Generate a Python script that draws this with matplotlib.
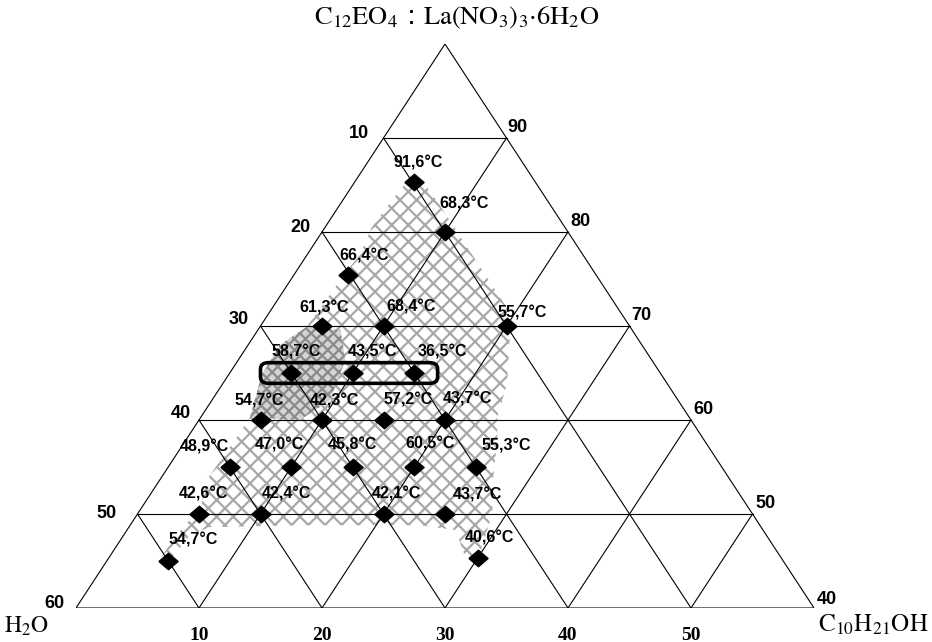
import numpy as np
import matplotlib
matplotlib.use('Agg')
import matplotlib.pyplot as plt
from matplotlib.patches import Polygon, FancyBboxPatch

# composition of each measured sample (wt %): surfactant mixture and decanol, water is the rest
surf = [85.3, 80, 75.4, 70, 70, 70, 65, 65, 65, 60, 60, 60, 60,
        55, 55, 55, 55, 55, 50, 50, 50, 50, 45, 45.3]
decanol = [4.8, 10, 4.4, 5, 10, 20, 5, 10, 15, 5, 10, 15, 20,
           5, 10, 15, 20, 25, 5, 10, 20, 25, 5, 30]
temps = [91.6, 68.3, 66.4, 61.3, 68.4, 55.7, 58.7, 43.5, 36.5, 54.7, 42.3, 57.2, 43.7,
         48.9, 47.0, 45.8, 60.5, 55.3, 42.6, 42.4, 42.1, 43.7, 54.7, 40.6]

# where each temperature label sits relative to its point (pixels, right / down)
label_offsets = [(5, -19), (19, -28), (16, -19), (2, -18), (28, -19), (16, -13),
                 (5, -21), (20, -21), (28, -21), (-1, -19), (12, -19), (25, -20), (22, -21),
                 (-25, -20), (-12, -22), (0, -22), (16, -23), (31, -21),
                 (4, -20), (26, -20), (13, -20), (32, -19), (25, -21), (12, -20)]

# outline of the hatched (single phase) domain, as (surfactant, decanol) pairs
region_s = [85.0, 85.0, 83.1, 78.4, 75.2, 72.0, 69.6, 63.9, 60.3, 57.9, 53.6, 50.1,
            46.7, 45.1, 45.6, 48.3, 48.8, 48.8, 48.6, 47.8, 45.1, 45.5, 48.8, 50.4,
            53.6, 58.2, 60.3, 64.8, 68.0, 69.9, 73.8, 76.0, 77.6, 80.5, 83.4]
region_d = [4.2, 5.9, 7.9, 12.6, 15.8, 19.0, 20.5, 23.1, 24.1, 25.3, 27.1, 28.8,
            29.7, 30.1, 28.8, 26.7, 23.6, 13.8, 6.6, 5.4, 5.1, 4.2, 4.4, 4.9,
            3.8, 4.0, 4.0, 2.7, 2.6, 3.8, 4.0, 4.1, 4.3, 3.8, 4.0]
# denser part of the domain
dense_s = [64.8, 68.0, 69.9, 69.6, 66.4, 62.1, 60.0, 60.3]
dense_d = [2.7, 2.6, 3.8, 6.7, 8.7, 9.6, 8.2, 4.0]

left_ticks = [10, 20, 30, 40, 50, 60]     # water
right_ticks = [90, 80, 70, 60, 50, 40]    # surfactant
bottom_ticks = [10, 20, 30, 40, 50]       # decanol

left_off = [(-25, -4), (-22, -4), (-22, -7), (-18, -6), (-31, -1), (-22, -5)]
right_off = [(11, -11), (12, -10), (12, -11), (12, -10), (13, -11), (13, -8)]

S0, SPAN = 40.0, 60.0


def to_xy(s, d):
    """ surfactant / decanol percentages -> position inside the unit triangle """
    s = np.asarray(s, dtype=float)
    d = np.asarray(d, dtype=float)
    v = (s - S0) / SPAN
    u = (d + (s - S0) / 2.0) / SPAN
    return u, v


plt.rcParams['mathtext.fontset'] = 'stix'
plt.rcParams['hatch.linewidth'] = 1.6

fig = plt.figure(figsize=(9.32, 6.42), dpi=100)
ax = fig.add_axes([76 / 932, 34 / 642, 738 / 932, 564 / 642])
ax.set_xlim(0, 1)
ax.set_ylim(0, 1)
ax.axis('off')

# hatched domain
u, v = to_xy(region_s, region_d)
ax.add_patch(Polygon(np.column_stack([u, v]), closed=True, facecolor='none',
                     edgecolor='#a8a8a8', linewidth=0, hatch='xx', zorder=1))
u, v = to_xy(dense_s, dense_d)
ax.add_patch(Polygon(np.column_stack([u, v]), closed=True, facecolor='#d4d4d4',
                     edgecolor='#8a8a8a', linewidth=0, hatch='xxx', zorder=1))

# triangle and grid
lw = 0.8
u, v = to_xy([40, 100, 40, 40], [0, 0, 60, 0])
ax.plot(u, v, color='black', lw=lw, zorder=2)
for k in range(10, 60, 10):
    s = S0 + k
    u, v = to_xy([s, s], [0, 100 - s])          # constant surfactant
    ax.plot(u, v, color='black', lw=lw, zorder=2)
    u, v = to_xy([S0, 100 - k], [k, k])         # constant decanol
    ax.plot(u, v, color='black', lw=lw, zorder=2)
    u, v = to_xy([S0, 100 - k], [60 - k, 0])    # constant water
    ax.plot(u, v, color='black', lw=lw, zorder=2)

# highlighted row
row_s, row_d, row_h = 65, (2.5, 16.9), 1.1
ul, ur = to_xy([row_s, row_s], row_d)[0]
vb, vt = to_xy([row_s - row_h, row_s + row_h], [0, 0])[1]
ax.add_patch(FancyBboxPatch((ul, vb), ur - ul, vt - vb,
                            boxstyle='round,pad=0,rounding_size=0.011',
                            facecolor='none', edgecolor='black', linewidth=2.6, zorder=4))

# samples
diamond = [(-1, 0), (0, 0.86), (1, 0), (0, -0.86), (-1, 0)]
u, v = to_xy(surf, decanol)
ax.plot(u, v, linestyle='none', marker=diamond, markersize=13.8,
        color='black', zorder=5)
for x, y, t, (dx, dy) in zip(u, v, temps, label_offsets):
    ax.annotate(f'{t:.1f}'.replace('.', ',') + '°C', (x, y), xytext=(dx, -dy),
                textcoords='offset pixels', ha='center', va='center',
                fontsize=11.5, fontweight='bold', family='Liberation Sans', zorder=6)

# axis numbers
tick_font = dict(fontsize=13, fontweight='bold', family='Liberation Sans',
                 ha='center', va='center')
for w, (dx, dy) in zip(left_ticks, left_off):
    x, y = to_xy(100 - w, 0)
    ax.annotate(str(w), (x, y), xytext=(dx, -dy), textcoords='offset pixels', **tick_font)
for s, (dx, dy) in zip(right_ticks, right_off):
    x, y = to_xy(s, 100 - s)
    ax.annotate(str(s), (x, y), xytext=(dx, -dy), textcoords='offset pixels', **tick_font)
for d in bottom_ticks:
    x, y = to_xy(S0, d)
    ax.annotate(str(d), (x, y), xytext=(0, -27), textcoords='offset pixels',
                fontsize=14, fontweight='bold', family='Liberation Serif',
                ha='center', va='center')

# component names at the corners
x, y = to_xy(100, 0)
ax.annotate(r'$\mathrm{C_{12}EO_4}$ : $\mathrm{La(NO_3)_3{\cdot}6H_2O}$', (x, y),
            xytext=(12, 26), textcoords='offset pixels', ha='center', va='center',
            fontsize=19)
x, y = to_xy(S0, 0)
ax.annotate(r'$\mathrm{H_2O}$', (x, y), xytext=(-49, -18), textcoords='offset pixels',
            ha='center', va='center', fontsize=17)
x, y = to_xy(S0, 60)
ax.annotate(r'$\mathrm{C_{10}H_{21}OH}$', (x, y), xytext=(59, -17),
            textcoords='offset pixels', ha='center', va='center', fontsize=18)

fig.savefig('out.png', dpi=100)
